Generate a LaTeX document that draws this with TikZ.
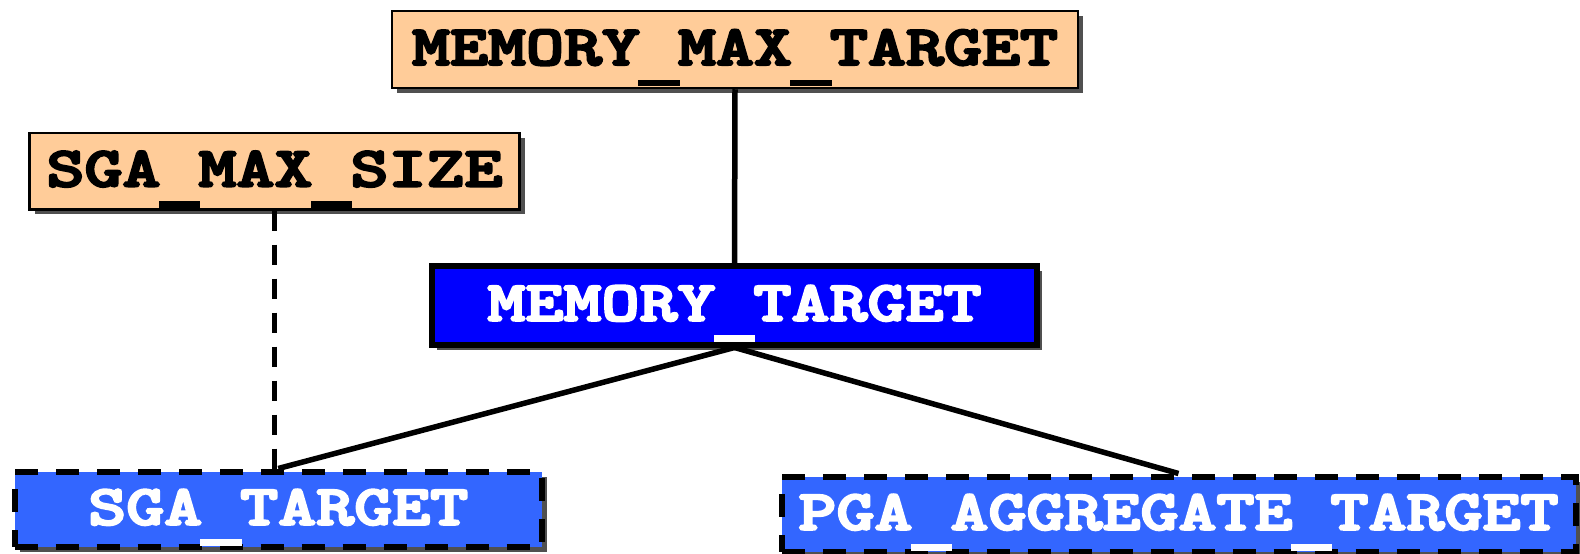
\documentclass[tikz,border=0pt]{standalone}
\usepackage{fontspec}
\newfontfamily\boxfont{lmmonolt10-bold.otf}[FakeBold=3.5]
\usetikzlibrary{shadows}
\definecolor{peach}{RGB}{255,204,153}
\definecolor{pureblue}{RGB}{0,0,255}
\definecolor{midblue}{RGB}{51,102,255}
\definecolor{shadowgray}{RGB}{80,80,80}
\newcommand{\us}{\makebox[29.9pt]{\rule[-21pt]{33pt}{6.5pt}}}
\newcommand{\bt}[1]{\scalebox{1.27}[1]{#1}}
\begin{document}
\begin{tikzpicture}[x=1pt,y=-1pt,
  boxbase/.style={rectangle, inner sep=0pt, text height=35pt, text depth=4pt,
    font=\fontsize{57}{60}\selectfont\boxfont,
    drop shadow={shadow xshift=5pt, shadow yshift=-5pt, fill=shadowgray, opacity=1}},
  peachbox/.style={boxbase, fill=peach, draw=black, line width=2.5pt, text=black},
  mainbox/.style={boxbase, fill=pureblue, draw=black, line width=6pt, text=white},
  subbox/.style={boxbase, fill=midblue, draw=black, line width=6pt, dash pattern=on 23pt off 18pt, text=white},
  conn/.style={draw=black, line width=5.5pt}]
\useasboundingbox (0,0) rectangle (1580,554);
\node[peachbox, minimum width=686pt, minimum height=77pt] (MMT) at (735,49.5) {\bt{MEMORY\us MAX\us TARGET}};
\node[peachbox, minimum width=490pt, minimum height=76.5pt] (SMS) at (274.5,171) {\bt{SGA\us MAX\us SIZE}};
\node[mainbox, minimum width=605pt, minimum height=78.5pt] (MT) at (734.5,305.25) {\bt{MEMORY\us TARGET}};
\node[subbox, minimum width=527.5pt, minimum height=75.5pt] (ST) at (278.25,509.25) {\bt{SGA\us TARGET}};
\node[subbox, minimum width=794pt, minimum height=75.5pt] (PGA) at (1178.5,514.25) {\bt{PGA\us AGGREGATE\us TARGET}};
\draw[conn] (MMT.south) -- (MT.north);
\draw[conn, dash pattern=on 20pt off 14pt] (SMS.south) -- (SMS.south |- ST.north);
\draw[conn] (MT.south) -- (ST.north);
\draw[conn] (MT.south) -- (PGA.north);
\end{tikzpicture}
\end{document}
